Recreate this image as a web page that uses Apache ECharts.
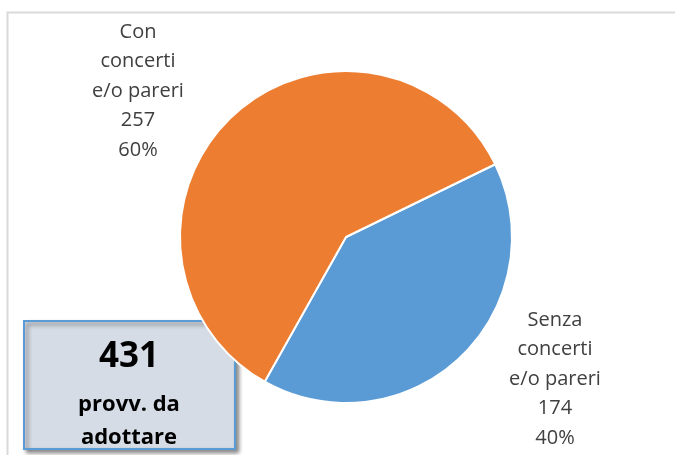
<!DOCTYPE html>
<html><head><meta charset="utf-8">
<script src="https://cdn.jsdelivr.net/npm/echarts@6/dist/echarts.min.js"></script>
<style>html,body{margin:0;padding:0;background:#fff}#c{width:675px;height:455px}</style>
</head><body><div id="c"></div>
<script>
const categories = ['Senza\nconcerti\ne/o pareri', 'Con\nconcerti\ne/o pareri'];
const values = [174, 257];
const percents = ['40%', '60%'];
const colors = ['#5b9bd5', '#ed7d31'];
const totalLabel = '431';
const totalText = 'provv. da\nadottare';
const labelPos = [[555, 379], [138, 91]];

const chart = echarts.init(document.getElementById('c'));
const font = 'Open Sans, Liberation Sans, sans-serif';
chart.setOption({
  animation: false,
  graphic: [
    { type: 'rect', shape: { x: 7.5, y: 12.5, width: 700, height: 500 }, style: { fill: 'none', stroke: '#d9d9d9', lineWidth: 2 }, z: 0 },
    { type: 'group', left: 23, top: 320, z: 100, children: [
      { type: 'rect', shape: { x: 0, y: 0, width: 211, height: 128 },
        style: { fill: '#d6dce5', stroke: '#5b9bd5', lineWidth: 2, shadowBlur: 4, shadowOffsetX: 3, shadowOffsetY: 3, shadowColor: 'rgba(0,0,0,0.45)' } },
      { type: 'text', x: 105, y: 36, style: { text: totalLabel, fill: '#000', font: 'bold 35px ' + font, align: 'center', verticalAlign: 'middle' } },
      { type: 'text', x: 105, y: 100, style: { text: totalText, fill: '#000', font: 'bold 22px ' + font, align: 'center', verticalAlign: 'middle', lineHeight: 33 } }
    ]}
  ],
  series: [{
    type: 'pie',
    center: [346, 237],
    radius: 166,
    startAngle: 26,
    clockwise: true,
    itemStyle: { borderColor: '#fff', borderWidth: 2 },
    label: {
      show: true, position: 'outside',
      formatter: p => p.name + '\n' + p.value + '\n' + percents[p.dataIndex],
      color: '#404040', fontSize: 20, lineHeight: 29.5, fontFamily: font, align: 'center'
    },
    labelLine: { show: false },
    labelLayout: p => ({ x: labelPos[p.dataIndex][0], y: labelPos[p.dataIndex][1], align: 'center', verticalAlign: 'middle' }),
    data: categories.map((c, i) => ({ name: c, value: values[i], itemStyle: { color: colors[i] } }))
  }]
});
</script></body></html>
